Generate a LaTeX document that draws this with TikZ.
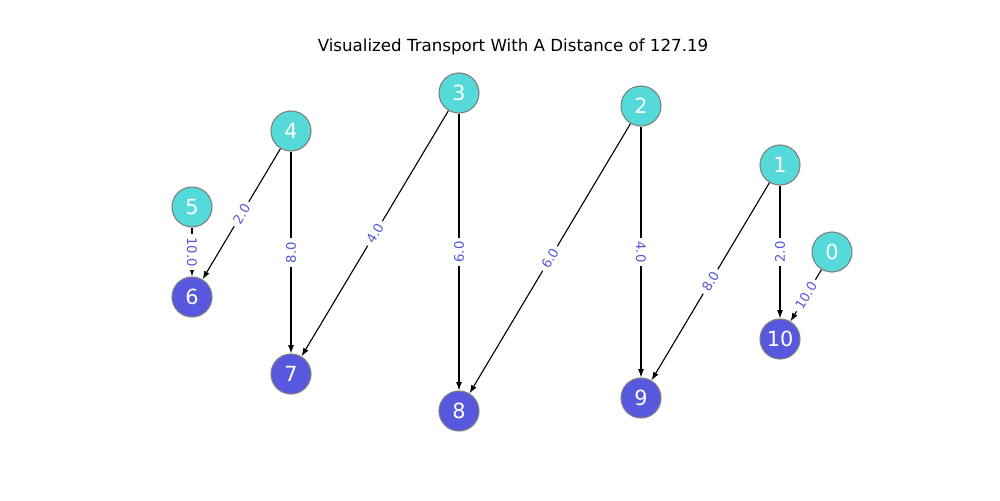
\documentclass[tikz,border=0pt]{standalone}
\usepackage{fontspec}
\setmainfont{DejaVu Sans}
\usetikzlibrary{arrows.meta}
\definecolor{srccol}{RGB}{86,217,217}
\definecolor{dstcol}{RGB}{87,88,221}
\definecolor{lblcol}{RGB}{88,88,220}
\definecolor{rimcol}{RGB}{128,128,128}
\begin{document}
\begin{tikzpicture}[x=0.72pt,y=-0.72pt,
  vertex/.style={circle, draw=rimcol, line width=0.8pt, minimum size=28.8pt, inner sep=0pt, text=white, font=\fontsize{15}{15}\selectfont},
  src/.style={vertex, fill=srccol},
  dst/.style={vertex, fill=dstcol},
  flow/.style={draw=black, line width=0.8pt, -{Latex[length=6pt,width=4.3pt]}},
  wt/.style={fill=white, inner sep=2.6pt, text=lblcol, font=\fontsize{9.5}{9.5}\selectfont}]
\useasboundingbox (0,0) rectangle (1000,500);
\node[font=\fontsize{12}{12}\selectfont] (title) at (513,47) {Visualized Transport With A Distance of 127.19};
% sources
\node[src] (n0) at (832,252) {0};
\node[src] (n1) at (780,165) {1};
\node[src] (n2) at (641,106) {2};
\node[src] (n3) at (459,93) {3};
\node[src] (n4) at (291,131) {4};
\node[src] (n5) at (192,207) {5};
% sinks
\node[dst] (n6) at (192,297) {6};
\node[dst] (n7) at (291,374) {7};
\node[dst] (n8) at (459,411) {8};
\node[dst] (n9) at (641,398) {9};
\node[dst] (n10) at (780,339) {10};
% edges
\draw[flow] (n0) -- (n10) node[wt, midway, rotate=59.1] {10.0};
\draw[flow] (n1) -- (n10) node[wt, midway, rotate=90] {2.0};
\draw[flow] (n1) -- (n9) node[wt, midway, rotate=59.2] {8.0};
\draw[flow] (n2) -- (n9) node[wt, midway, rotate=-90] {4.0};
\draw[flow] (n2) -- (n8) node[wt, midway, rotate=59.2] {6.0};
\draw[flow] (n3) -- (n8) node[wt, midway, rotate=90] {6.0};
\draw[flow] (n3) -- (n7) node[wt, midway, rotate=59.1] {4.0};
\draw[flow] (n4) -- (n7) node[wt, midway, rotate=90] {8.0};
\draw[flow] (n4) -- (n6) node[wt, midway, rotate=59.2] {2.0};
\draw[flow] (n5) -- (n6) node[wt, midway, rotate=-90] {10.0};
\end{tikzpicture}
\end{document}
